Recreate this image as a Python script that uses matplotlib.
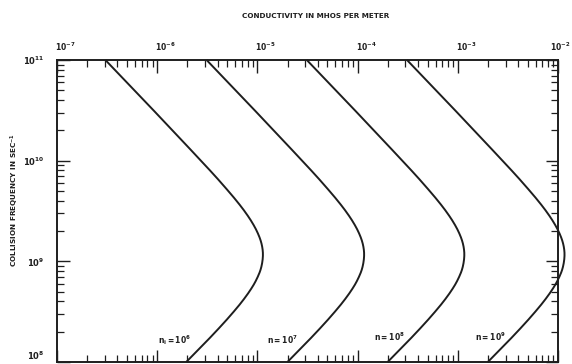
import numpy as np
import matplotlib
matplotlib.use("Agg")
import matplotlib.pyplot as plt
import matplotlib.transforms as mtransforms

# Collision frequency (sec^-1) at which conductivity was read
collision_freq = [1e8, 1.5e8, 2e8, 3e8, 4e8, 5e8, 6e8, 7e8, 8e8, 1e9, 1.2e9, 1.5e9,
                  2e9, 2.5e9, 3e9, 4e9, 5e9, 7e9, 1e10, 2e10, 3e10, 5e10, 1e11]

# log10 of conductivity (mhos per meter)
log_sigma_n6 = [-5.71, -5.536, -5.416, -5.256, -5.152, -5.081, -5.031, -4.997, -4.973, -4.95, -4.945,
                -4.959, -5.006, -5.06, -5.113, -5.209, -5.291, -5.42, -5.564, -5.848, -6.015, -6.229, -6.517]
log_sigma_n7 = [-4.70, -4.526, -4.406, -4.246, -4.142, -4.071, -4.021, -3.987, -3.963, -3.94, -3.935,
                -3.949, -3.996, -4.05, -4.103, -4.199, -4.281, -4.41, -4.554, -4.838, -5.005, -5.219, -5.507]
log_sigma_n8 = [-3.70, -3.526, -3.406, -3.246, -3.142, -3.071, -3.021, -2.987, -2.963, -2.94, -2.935,
                -2.949, -2.996, -3.05, -3.103, -3.199, -3.281, -3.41, -3.554, -3.838, -4.005, -4.219, -4.507]
log_sigma_n9 = [-2.70, -2.526, -2.406, -2.246, -2.142, -2.071, -2.021, -1.987, -1.963, -1.94, -1.935,
                -1.949, -1.996, -2.05, -2.103, -2.199, -2.281, -2.41, -2.554, -2.838, -3.005, -3.219, -3.507]

curve_labels = [r"$n_i = 10^6$", r"$n = 10^7$", r"$n = 10^8$", r"$n = 10^9$"]
label_sigma = [1.5e-6, 1.78e-5, 2.1e-4, 2.1e-3]
label_freq = [1.65e8, 1.65e8, 1.8e8, 1.8e8]

x_ticks = [1e-7, 1e-6, 1e-5, 1e-4, 1e-3, 1e-2]
y_ticks = [1e8, 1e9, 1e10, 1e11]

title = "CONDUCTIVITY IN MHOS PER METER"
ylabel = r"COLLISION FREQUENCY IN SEC$^{-1}$"

plt.rcParams['font.family'] = ['DejaVu Sans']
plt.rcParams['mathtext.default'] = 'bf'


def smooth_path(t, v, per_seg=16):
    """Cubic Hermite curve through the read points (t increasing)."""
    t = np.asarray(t, float)
    v = np.asarray(v, float)
    n = len(t)
    m = np.empty(n)
    m[0] = (v[1] - v[0]) / (t[1] - t[0])
    m[-1] = (v[-1] - v[-2]) / (t[-1] - t[-2])
    for i in range(1, n - 1):
        h0, h1 = t[i] - t[i - 1], t[i + 1] - t[i]
        d0, d1 = (v[i] - v[i - 1]) / h0, (v[i + 1] - v[i]) / h1
        m[i] = (h1 * d0 + h0 * d1) / (h0 + h1)
    ts, vs = [], []
    for i in range(n - 1):
        h = t[i + 1] - t[i]
        s = np.linspace(0, 1, per_seg, endpoint=(i == n - 2))
        h00 = 2 * s**3 - 3 * s**2 + 1
        h10 = s**3 - 2 * s**2 + s
        h01 = -2 * s**3 + 3 * s**2
        h11 = s**3 - s**2
        ts.append(t[i] + s * h)
        vs.append(h00 * v[i] + h10 * h * m[i] + h01 * v[i + 1] + h11 * h * m[i + 1])
    return np.concatenate(ts), np.concatenate(vs)


fig = plt.figure(figsize=(5.72, 3.64), dpi=100)
ax = fig.add_axes([57/572, 2/364, 501/572, 302/364])

ink = "#1e1e1e"
log_freq = np.log10(collision_freq)
for ls in (log_sigma_n6, log_sigma_n7, log_sigma_n8, log_sigma_n9):
    tf, vs = smooth_path(log_freq, ls)
    ax.plot(10.0 ** vs, 10.0 ** tf, color=ink, lw=1.4, clip_on=False,
            solid_capstyle='butt')

for txt, xs, ys in zip(curve_labels, label_sigma, label_freq):
    ax.text(xs, ys, txt, fontsize=5.5, color=ink, ha='center', va='center', fontweight='bold')

ax.set_xscale('log')
ax.set_yscale('log')
ax.set_xticks(x_ticks)
ax.set_yticks(y_ticks)
ax.set_xlim(1e-7, 1e-2)
ax.set_ylim(1e8, 1e11)

ax.xaxis.set_ticks_position('both')
ax.xaxis.set_label_position('top')
ax.tick_params(axis='x', which='both', direction='in', top=True, bottom=True,
               labeltop=True, labelbottom=False, colors=ink)
ax.tick_params(axis='y', which='both', direction='in', left=True, right=True,
               labelleft=True, colors=ink)
ax.tick_params(which='major', length=9, width=1.0, labelsize=5.5, pad=5)
ax.tick_params(axis='y', which='major', pad=9, labelsize=6)
ax.tick_params(which='minor', length=5, width=0.9)
for sp in ax.spines.values():
    sp.set_linewidth(1.4)
    sp.set_color(ink)

shift = mtransforms.ScaledTranslation(-2/100, 0, fig.dpi_scale_trans)
last_shift = mtransforms.ScaledTranslation(12/100, 0, fig.dpi_scale_trans)
xt = ax.xaxis.get_major_ticks()
for i, tick in enumerate(xt):
    lab = tick.label2
    lab.set_fontweight('bold')
    if i == len(xt) - 1:
        lab.set_horizontalalignment('right')
        lab.set_transform(lab.get_transform() + last_shift)
    else:
        lab.set_horizontalalignment('left')
        lab.set_transform(lab.get_transform() + shift)
yt = ax.yaxis.get_major_ticks()
for tick in yt:
    tick.label1.set_fontweight('bold')
yt[0].label1.set_verticalalignment('bottom')

fig.text(316/572, 1 - 16/364, title, ha='center', va='center', fontsize=5.2,
         fontweight='bold', color=ink)
fig.text(15/572, 1 - 200/364, ylabel, ha='center', va='center', rotation=90,
         fontsize=5.2, fontweight='bold', color=ink)

fig.savefig("out.png", dpi=100)
